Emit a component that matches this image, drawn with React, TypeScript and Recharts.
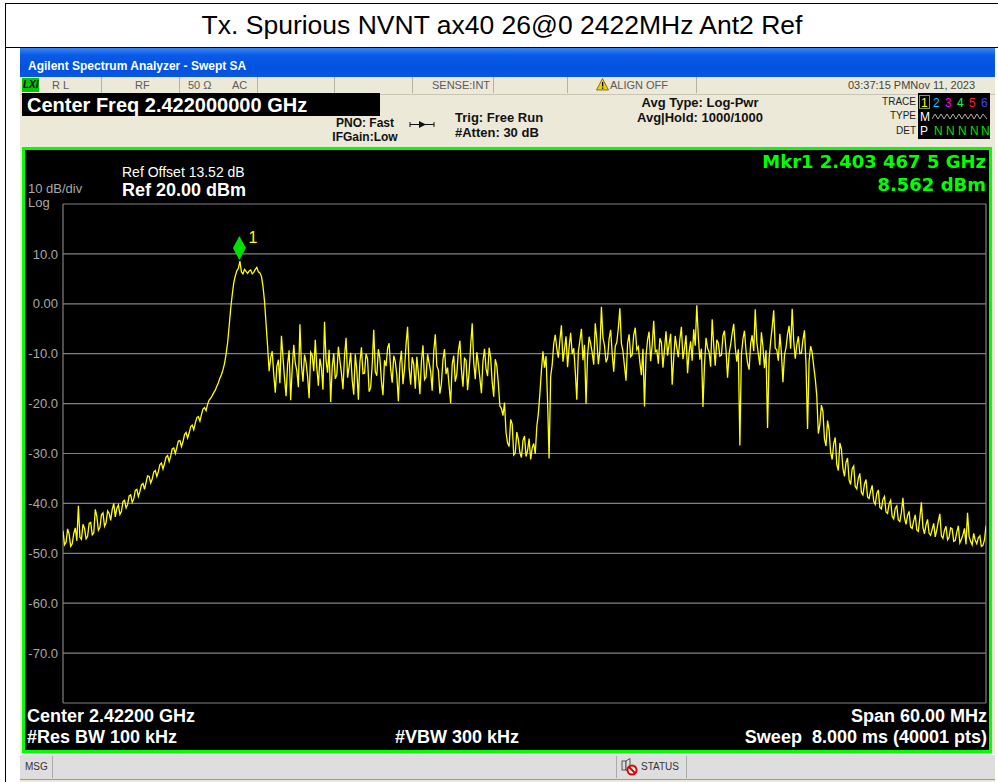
import React from 'react';
import { LineChart, Line, XAxis, YAxis, CartesianGrid, ReferenceDot } from 'recharts';

const TITLE = 'Tx. Spurious NVNT ax40 26@0 2422MHz Ant2 Ref';

// sweep: 2.392 .. 2.452 GHz, one point every 0.1 MHz
const START_MHZ = 2392;
const STEP_MHZ = 0.1;
const FREQ_TICKS = [2392, 2398, 2404, 2410, 2416, 2422, 2428, 2434, 2440, 2446, 2452];
const LEVEL_TICKS = [20, 10, 0, -10, -20, -30, -40, -50, -60, -70, -80];

// trace 1, dBm
const TRACE_DBM = [
  // left skirt
  -45.5, -48.3, -47.8, -45.1, -46.2, -48.6, -48.1, -46.0, -44.9, -47.5,
  -40.5, -46.8, -47.2, -44.2, -45.0, -47.1, -46.6, -44.0, -43.8, -46.3,
  -45.9, -41.2, -42.6, -45.4, -44.8, -42.3, -41.9, -44.6, -43.9, -41.5,
  -42.0, -43.4, -41.2, -40.0, -42.7, -41.0, -40.3, -42.2, -41.6, -39.6,
  -39.4, -40.9, -40.2, -38.5, -38.3, -39.8, -39.1, -37.4, -37.2, -38.6,
  -37.6, -36.3, -36.0, -37.2, -35.8, -34.5, -34.6, -35.9, -35.1, -33.7,
  -33.4, -34.6, -33.6, -32.2, -31.9, -33.1, -32.0, -30.7, -30.4, -31.6,
  -30.5, -29.1, -28.9, -30.0, -28.8, -27.5, -27.4, -28.6, -27.6, -26.2,
  -25.8, -26.9, -25.9, -24.6, -24.3, -25.2, -23.9, -22.8, -22.6, -23.5,
  -22.2, -21.1, -20.8, -21.4, -20.1, -19.3, -18.9, -18.4, -17.8, -17.3,
  -16.5, -15.8, -14.9, -14.2, -13.2, -12.0, -10.1, -7.8, -4.5, -1.0,
  1.8,
  // carrier
  4.2, 5.6, 6.6, 7.1, 8.56, 6.4, 6.0, 6.9, 6.5, 6.1,
  6.6, 6.8, 6.0, 6.3, 6.9, 7.3, 6.4, 6.2, 5.5, 3.5,
  0.5, -4.0, -8.5, -13.5,
  // floor up to the notch
  -10.8,
  -9.5, -14.2, -17.8, -12.6, -11.2, -15.9, -6.4, -10.7, -14.9, -18.5,
  -12.1, -9.3, -19.3, -13.0, -8.2, -11.9, -13.4, -16.7, -4.1, -12.3,
  -15.6, -10.2, -11.8, -14.6, -18.9, -9.7, -10.3, -13.5, -7.2, -12.8,
  -16.4, -11.0, -12.9, -17.2, -3.6, -11.4,
  -13.8, -9.2, -19.7, -12.7, -9.9, -15.0, -14.2, -8.6, -11.4, -13.9,
  -17.1, -10.5, -6.8, -14.8, -12.6, -9.8, -15.3, -18.2, -10.1, -13.3,
  -19.2, -11.7, -8.7, -14.0, -13.9, -10.0, -11.1, -17.6, -16.8, -12.2,
  -5.2, -13.6, -14.4, -9.1, -10.9, -15.5, -18.3, -11.3, -12.5, -8.9,
  -7.9, -13.1, -15.8, -10.4, -11.6, -14.3, -19.5, -12.0, -9.4, -16.1,
  -13.1, -8.1, -4.6, -12.9, -16.2, -10.7, -12.2, -17.0, -10.6, -13.8,
  -18.1, -11.5, -8.3, -15.2, -14.7, -10.1, -11.9, -13.6, -17.4, -9.6,
  -6.1, -12.4, -13.3, -18.0, -15.9, -11.2, -9.1, -14.1, -12.8, -16.5,
  -19.9, -12.1, -10.4, -15.6, -14.1, -9.5, -7.4, -13.2, -16.6, -10.9,
  -11.3, -17.3, -13.7, -8.4, -3.9, -11.8, -15.1, -9.7, -12.0, -14.9,
  -17.9, -11.4, -9.0, -13.0, -14.5, -8.8, -10.8, -15.7, -18.6, -11.1,
  -12.4, -16.0, -20.5,
  // notch
  -21.0,
  -22.4, -19.8, -25.8, -27.9, -28.6, -23.2, -24.1, -30.3, -29.9, -25.7,
  -27.2, -29.8, -30.8, -27.4, -26.5, -30.6, -29.4, -27.0, -31.2, -28.9,
  -28.0, -30.1, -24.6, -22.0, -18.0, -13.4, -9.5, -12.8, -10.5, -19.5,
  -31.0, -14.6, -12.2,
  // upper block
  -8.0,
  -6.2, -9.0, -10.8, -7.3, -4.3, -11.6, -9.1, -6.5, -12.7, -8.7,
  -5.8, -10.1, -8.9, -13.5, -19.2, -9.6, -7.4, -5.0, -11.3, -8.2,
  -20.1, -10.5, -6.6, -8.0, -9.8, -12.2, -3.9, -7.1, -12.1, -9.4,
  -0.6, -6.8, -8.4, -11.7, -10.9, -7.0, -5.2, -9.9, -13.6, -8.5,
  -7.7, -4.9, -0.9, -8.0, -9.5, -12.5, -15.4, -7.9, -6.1, -10.6,
  -10.2, -6.2, -4.8, -9.2, -8.6, -11.8, -14.3, -9.0, -20.6, -10.4,
  -7.2, -5.6, -11.5, -8.3, -3.4, -9.6, -9.3, -12.0, -6.9, -7.8,
  -12.8, -9.1, -5.5, -10.4, -8.1, -6.0, -16.2, -10.8, -6.4, -8.8,
  -10.7, -7.1, -4.6, -11.1, -9.0, -6.3, -13.9, -9.7, -7.5, -11.4,
  -5.1, -8.4, -0.3, -6.6, -11.2, -9.0, -20.7, -12.3, -6.8, -8.9,
  -9.7, -12.6, -3.1, -8.3, -12.4, -7.2, -7.9, -10.5, -10.3, -6.4,
  -5.4, -9.3, -14.8, -10.0, -8.2, -5.9, -4.0, -8.7, -11.6, -9.1,
  -28.4, -10.2, -7.0, -5.4, -9.4, -11.9, -13.2, -8.0, -6.3, -9.5,
  -1.1, -7.6, -10.1, -12.3, -5.7, -8.6, -12.9, -9.3, -24.9, -11.0,
  -7.6, -4.7, -1.3, -8.9, -9.2, -11.4, -6.0, -9.8, -15.7, -10.3,
  -8.8, -6.1, -4.4, -9.0, -1.0, -7.4, -11.0, -8.3, -6.5, -10.0,
  -9.9, -7.2, -5.3, -12.1, -25.1, -11.5, -8.5,
  // right skirt
  -9.8,
  -12.5, -15.0, -18.4, -26.0, -24.2, -20.3, -21.6, -27.1, -28.5, -23.4,
  -25.3, -29.8, -31.2, -28.0, -26.8, -32.2, -33.4, -27.9, -29.1, -33.0,
  -34.6, -31.8, -30.9, -35.3, -36.2, -33.1, -32.5, -36.6, -37.1, -35.0,
  -34.0, -37.8, -38.3, -36.1, -35.2, -38.7, -39.0, -37.5, -36.4, -39.6,
  -40.2, -38.0, -37.3, -40.8, -41.1, -39.2, -38.6, -41.7, -42.0, -40.1,
  -39.4, -42.6, -43.1, -41.0, -40.5, -43.3, -43.6, -41.8, -38.9, -42.9,
  -44.2, -42.4, -41.6, -44.7, -45.0, -43.5, -42.3, -45.3, -45.6, -42.9,
  -39.8, -44.8, -46.1, -44.3, -43.2, -46.0, -46.4, -45.2, -44.0, -46.7,
  -45.3, -43.6, -42.1, -46.5, -47.0, -45.4, -44.6, -47.3, -46.8, -44.9,
  -45.1, -47.6, -47.4, -45.8, -44.5, -47.9, -47.2, -46.3, -45.0, -48.2,
  -41.9, -46.6, -47.6, -48.3, -46.0, -47.4, -48.1, -46.9, -46.5, -48.6,
  -48.4, -47.3, -44.5,
];

const MARKER_FREQ = 2403.4675;
const MARKER_LEVEL = 8.562;

const traceData = TRACE_DBM.map((v, i) => ({ freq: START_MHZ + i * STEP_MHZ, level: v }));

const SANS = '"Liberation Sans", Arial, sans-serif';
const WIDE = '"DejaVu Sans", Verdana, sans-serif';
const BEIGE = '#ece9d8';

const fmtLevel = (v: number) => {
  if (v === 20 || v === -80) return '';
  if (v === 0) return '0.00';
  return v.toFixed(1);
};

const txt = (
  left: number,
  top: number,
  s: string,
  style: React.CSSProperties = {},
) => (
  <div
    style={{
      position: 'absolute',
      left,
      top,
      lineHeight: 1,
      whiteSpace: 'pre',
      ...style,
    }}
  >
    {s}
  </div>
);

const MarkerShape = (props: any) => {
  const { cx, cy } = props;
  return (
    <g>
      <polygon
        points={`${cx},${cy - 25} ${cx + 6.5},${cy - 13} ${cx},${cy - 1} ${cx - 6.5},${cy - 13}`}
        fill="#00e000"
      />
      <text x={cx + 9} y={cy - 18} fill="#ffff00" fontSize={16} fontFamily={SANS}>
        1
      </text>
    </g>
  );
};

const Spectrum = () => (
  <LineChart
    width={998}
    height={782}
    data={traceData}
    margin={{ top: 204, right: 12, bottom: 79, left: 23 }}
    style={{ position: 'absolute', left: 0, top: 0 }}
  >
    <CartesianGrid stroke="#808080" strokeWidth={1.2} />
    <XAxis
      dataKey="freq"
      type="number"
      domain={[2392, 2452]}
      ticks={FREQ_TICKS}
      height={0}
      tick={false}
      axisLine={false}
      tickLine={false}
      allowDataOverflow
    />
    <YAxis
      type="number"
      domain={[-80, 20]}
      ticks={LEVEL_TICKS}
      interval={0}
      width={40}
      axisLine={false}
      tickLine={false}
      tickSize={0}
      tickMargin={5}
      tickFormatter={fmtLevel}
      tick={{ fill: '#a8a8a8', fontSize: 13, fontFamily: SANS }}
    />
    <Line
      dataKey="level"
      stroke="#ffff00"
      strokeWidth={1.3}
      dot={false}
      type="linear"
      isAnimationActive={false}
    />
    <ReferenceDot x={MARKER_FREQ} y={MARKER_LEVEL} shape={MarkerShape} ifOverflow="visible" />
  </LineChart>
);

const cell = (left: number, width: number) => (
  <div
    style={{
      position: 'absolute',
      left,
      top: 77,
      width,
      height: 16,
      borderRight: '1px solid #b5b2a3',
      boxSizing: 'border-box',
    }}
  />
);

export default function App() {
  const small: React.CSSProperties = { fontSize: 11, color: '#5a5a5a', fontFamily: SANS };
  const info: React.CSSProperties = { fontSize: 13, fontWeight: 'bold', color: '#111', fontFamily: SANS };
  const bottom: React.CSSProperties = { fontSize: 18, fontWeight: 'bold', color: '#fff', fontFamily: SANS };
  const mkr: React.CSSProperties = { fontSize: 18, fontWeight: 'bold', color: '#00ff00', fontFamily: WIDE };

  return (
    <div
      style={{
        position: 'absolute',
        left: 0,
        top: 0,
        width: 998,
        height: 782,
        background: '#fff',
        overflow: 'hidden',
        fontFamily: SANS,
      }}
    >
      {/* outer table frame + title */}
      <div style={{ position: 'absolute', left: 5, top: 3, width: 993, height: 1, background: '#000' }} />
      <div style={{ position: 'absolute', left: 5, top: 3, width: 1, height: 779, background: '#000' }} />
      <div style={{ position: 'absolute', left: 5, top: 47, width: 993, height: 1, background: '#000' }} />
      <div
        style={{
          position: 'absolute',
          left: 6,
          top: 4,
          width: 992,
          height: 43,
          display: 'flex',
          alignItems: 'center',
          justifyContent: 'center',
          fontSize: 26.5,
          color: '#000',
        }}
      >
        {TITLE}
      </div>

      {/* analyzer window */}
      <div style={{ position: 'absolute', left: 20, top: 48, width: 975, height: 734, background: BEIGE }} />
      <div
        style={{
          position: 'absolute',
          left: 20,
          top: 48,
          width: 975,
          height: 29,
          background: 'linear-gradient(#3a86f4 0%, #0a5ae6 25%, #0052e0 70%, #0a56e4 100%)',
        }}
      />
      {txt(28, 60, 'Agilent Spectrum Analyzer - Swept SA', {
        fontSize: 12,
        fontWeight: 'bold',
        color: '#fff',
        fontFamily: SANS,
      })}

      {/* status row */}
      <div style={{ position: 'absolute', left: 20, top: 77, width: 975, height: 17, background: BEIGE, borderBottom: '1px solid #c8c5b5' }} />
      <div style={{ position: 'absolute', left: 22, top: 78, width: 17, height: 14, background: '#00c800' }} />
      {txt(23, 80, 'LXI', { fontSize: 10, fontWeight: 'bold', fontStyle: 'italic', color: '#000' })}
      {cell(20, 82)}
      {cell(102, 78)}
      {cell(180, 78)}
      {cell(258, 77)}
      {cell(335, 78)}
      {cell(413, 81)}
      {cell(494, 74)}
      {cell(568, 129)}
      {txt(52, 80, 'R L', small)}
      {txt(135, 80, 'RF', small)}
      {txt(188, 80, '50 \u03a9', small)}
      {txt(232, 80, 'AC', small)}
      {txt(432, 80, 'SENSE:INT', small)}
      <svg style={{ position: 'absolute', left: 596, top: 78 }} width={13} height={13}>
        <polygon points="6.5,0.5 12.5,12 0.5,12" fill="#f2d000" stroke="#6a5a00" strokeWidth={0.8} />
        <rect x={6} y={4} width={1.3} height={4.5} fill="#000" />
        <rect x={6} y={9.5} width={1.3} height={1.3} fill="#000" />
      </svg>
      {txt(610, 80, 'ALIGN OFF', small)}
      {txt(848, 80, '03:37:15 PMNov 11, 2023', { ...small, color: '#444' })}

      {/* info area */}
      <div style={{ position: 'absolute', left: 22, top: 93, width: 358, height: 23, background: '#000' }} />
      {txt(27, 95, 'Center Freq 2.422000000 GHz', { fontSize: 20, fontWeight: 'bold', color: '#fff' })}
      {txt(330, 117, 'PNO: Fast', { ...info, fontSize: 12, width: 70, textAlign: 'center' })}
      {txt(330, 131, 'IFGain:Low', { ...info, fontSize: 12, width: 70, textAlign: 'center' })}
      <svg style={{ position: 'absolute', left: 409, top: 120 }} width={26} height={9}>
        <line x1={1} y1={4.5} x2={25} y2={4.5} stroke="#111" strokeWidth={1} />
        <polygon points="10,1 17,4.5 10,8" fill="#111" />
        <line x1={1} y1={2} x2={1} y2={7} stroke="#111" />
        <line x1={25} y1={2} x2={25} y2={7} stroke="#111" />
      </svg>
      {txt(455, 111, 'Trig: Free Run', info)}
      {txt(455, 126, '#Atten: 30 dB', info)}
      {txt(610, 96, 'Avg Type: Log-Pwr', { ...info, width: 180, textAlign: 'center' })}
      {txt(610, 111, 'Avg|Hold: 1000/1000', { ...info, width: 180, textAlign: 'center' })}

      {txt(870, 97, 'TRACE', { fontSize: 10, color: '#222', width: 46, textAlign: 'right' })}
      {txt(870, 111, 'TYPE', { fontSize: 10, color: '#222', width: 46, textAlign: 'right' })}
      {txt(870, 126, 'DET', { fontSize: 10, color: '#222', width: 46, textAlign: 'right' })}
      <div style={{ position: 'absolute', left: 918, top: 93, width: 72, height: 46, background: '#000' }} />
      <div style={{ position: 'absolute', left: 919, top: 95, width: 11, height: 14, border: '1px solid #6fa06f', boxSizing: 'border-box' }} />
      {txt(921, 97, '1', { fontSize: 12, color: '#ffff00' })}
      {txt(933, 97, '2', { fontSize: 12, color: '#00c8ff' })}
      {txt(945, 97, '3', { fontSize: 12, color: '#ff00ff' })}
      {txt(957, 97, '4', { fontSize: 12, color: '#00ff66' })}
      {txt(969, 97, '5', { fontSize: 12, color: '#ff2020' })}
      {txt(981, 97, '6', { fontSize: 12, color: '#4040ff' })}
      {txt(920, 111, 'M', { fontSize: 12, color: '#fff' })}
      <svg style={{ position: 'absolute', left: 932, top: 112 }} width={56} height={10}>
        <polyline
          points="0,7 3,2 6,7 9,2 12,7 15,2 18,7 21,2 24,7 27,2 30,7 33,2 36,7 39,2 42,7 45,2 48,7 51,2 55,7"
          fill="none"
          stroke="#bbb"
          strokeWidth={0.9}
        />
      </svg>
      {txt(920, 125, 'P', { fontSize: 12, color: '#fff' })}
      {txt(934, 125, 'N', { fontSize: 12, color: '#00e000' })}
      {txt(946, 125, 'N', { fontSize: 12, color: '#00e000' })}
      {txt(958, 125, 'N', { fontSize: 12, color: '#00e000' })}
      {txt(970, 125, 'N', { fontSize: 12, color: '#00e000' })}
      {txt(981, 125, 'N', { fontSize: 12, color: '#00e000' })}

      {/* display */}
      <div
        style={{
          position: 'absolute',
          left: 22,
          top: 147,
          width: 970,
          height: 606,
          background: '#000',
          border: '3px solid #00ff00',
          boxSizing: 'border-box',
        }}
      />
      {txt(122, 165, 'Ref Offset 13.52 dB', { fontSize: 14, color: '#fff' })}
      {txt(122, 181, 'Ref 20.00 dBm', { fontSize: 18, fontWeight: 'bold', color: '#fff' })}
      {txt(28, 182, '10 dB/div', { fontSize: 13, color: '#a8a8a8' })}
      {txt(28, 196, 'Log', { fontSize: 13, color: '#a8a8a8' })}
      {txt(586, 153, 'Mkr1 2.403 467 5 GHz', { ...mkr, width: 400, textAlign: 'right' })}
      {txt(586, 176, '8.562 dBm', { ...mkr, width: 400, textAlign: 'right' })}

      <Spectrum />

      {txt(27, 707, 'Center 2.42200 GHz', bottom)}
      {txt(27, 728, '#Res BW 100 kHz', bottom)}
      {txt(395, 728, '#VBW 300 kHz', bottom)}
      {txt(587, 707, 'Span 60.00 MHz', { ...bottom, width: 400, textAlign: 'right' })}
      {txt(587, 728, 'Sweep  8.000 ms (40001 pts)', { ...bottom, width: 400, textAlign: 'right' })}

      {/* message bar */}
      <div
        style={{
          position: 'absolute',
          left: 20,
          top: 754,
          width: 975,
          height: 26,
          background: '#dedede',
          borderTop: '1px solid #fff',
          borderBottom: '1px solid #999',
          boxSizing: 'border-box',
        }}
      />
      <div style={{ position: 'absolute', left: 52, top: 756, width: 1, height: 22, background: '#aaa' }} />
      <div style={{ position: 'absolute', left: 616, top: 756, width: 1, height: 22, background: '#aaa' }} />
      <div style={{ position: 'absolute', left: 686, top: 756, width: 1, height: 22, background: '#aaa' }} />
      {txt(25, 762, 'MSG', { fontSize: 10, color: '#333' })}
      <svg style={{ position: 'absolute', left: 621, top: 758 }} width={18} height={18}>
        <rect x={1} y={3} width={4} height={9} fill="#ddd" stroke="#333" strokeWidth={0.8} />
        <polygon points="5,3 9,0.5 9,14.5 5,12" fill="#ddd" stroke="#333" strokeWidth={0.8} />
        <circle cx={11} cy={12} r={4.5} fill="#fff" stroke="#e00000" strokeWidth={2} />
        <line x1={8} y1={9} x2={14} y2={15} stroke="#e00000" strokeWidth={2} />
      </svg>
      {txt(641, 762, 'STATUS', { fontSize: 10, color: '#333' })}
    </div>
  );
}
